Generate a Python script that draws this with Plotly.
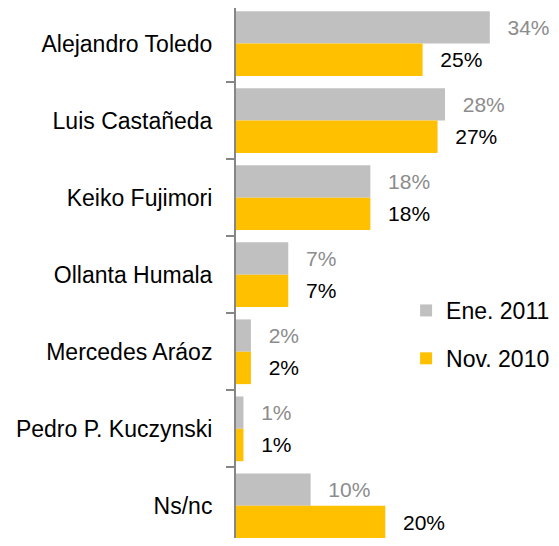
import plotly.graph_objects as go

FONT_FAMILY = "Liberation Sans"

candidates = ["Alejandro Toledo", "Luis Castañeda", "Keiko Fujimori", "Ollanta Humala",
              "Mercedes Aráoz", "Pedro P. Kuczynski", "Ns/nc"]
ene_2011 = [34, 28, 18, 7, 2, 1, 10]
nov_2010 = [25, 27, 18, 7, 2, 1, 20]

PAD = "\u2002\u2009"


def pct_labels(vals):
    return [f"{PAD}{v}%" for v in vals]


fig = go.Figure()

fig.add_trace(go.Bar(
    y=candidates, x=ene_2011, orientation="h", name="Ene. 2011",
    marker=dict(color="#C0C0C0", line=dict(width=0)),
    text=pct_labels(ene_2011), textposition="outside", cliponaxis=False,
    textfont=dict(color="#8C8C8C", size=21, family=FONT_FAMILY),
    legendgroup="a",
))
fig.add_trace(go.Bar(
    y=candidates, x=nov_2010, orientation="h", name="Nov. 2010",
    marker=dict(color="#FFC000", line=dict(width=0)),
    text=pct_labels(nov_2010), textposition="outside", cliponaxis=False,
    textfont=dict(color="black", size=21, family=FONT_FAMILY),
    legendgroup="b",
))

# page body has an 8px margin, keep the figure inside the window
fig.update_layout(
    width=543, height=530,
    margin=dict(l=228, r=0, t=0, b=0, autoexpand=False),
    paper_bgcolor="white",
    plot_bgcolor="white",
    barmode="group",
    bargap=0.16,
    bargroupgap=0,
    font=dict(family=FONT_FAMILY, size=22, color="black"),
    xaxis=dict(range=[0, 42.2], showgrid=False, zeroline=False,
               showticklabels=False, showline=False, ticks="",
               automargin=False),
    yaxis=dict(
        categoryorder="array", categoryarray=candidates,
        range=[6.417, -0.461],
        showline=True, linecolor="#868686", linewidth=2,
        ticks="outside", tickson="boundaries", ticklen=8,
        tickcolor="#868686", tickwidth=2,
        ticklabelstandoff=17,
        tickfont=dict(size=23, color="black"),
        showgrid=False, zeroline=False,
        automargin=False,
    ),
    showlegend=True,
    legend=dict(
        x=0.54, y=0.384, xanchor="left", yanchor="middle",
        traceorder="grouped", tracegroupgap=15,
        font=dict(size=23, color="black"),
        bgcolor="rgba(0,0,0,0)",
    ),
)

fig.write_html("out.html")
